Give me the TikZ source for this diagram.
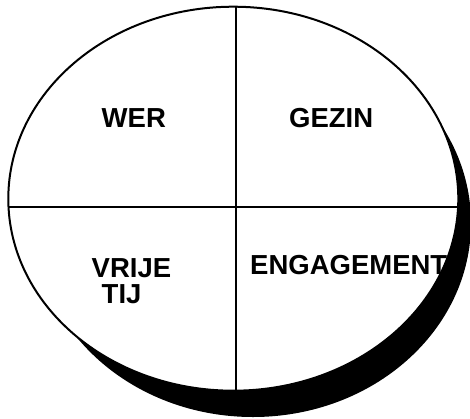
\documentclass[tikz,border=0pt]{standalone}
\usepackage{fontspec}
\setmainfont{Liberation Sans}
\begin{document}
\begin{tikzpicture}[x=1pt,y=-1pt,
  label/.style={anchor=base west, inner sep=0pt, font=\fontsize{27.5}{27.5}\selectfont\bfseries},
  divider/.style={line width=2pt, draw=black}]
\useasboundingbox (0,0) rectangle (470,418);
% shadow
\fill[black] (253,223) ellipse [x radius=218pt, y radius=194pt];
% main ellipse
\draw[fill=white, line width=2pt] (233.3,198.7) ellipse [x radius=225pt, y radius=192pt];
% dividers
\coordinate (top) at (235.5,6.7);
\coordinate (bot) at (235.5,390.7);
\coordinate (lft) at (8.5,207);
\coordinate (rgt) at (458,207);
\draw[divider] (top) -- (bot);
\draw[divider] (lft) -- (rgt);
% labels
\node[label] (wer) at (101.5,127.5) {WER};
\node[label] (gezin) at (289,127.5) {GEZIN};
\node[label] (vrije) at (91.5,277) {VRIJE};
\node[label] (tij) at (101.5,303) {TIJ};
\node[label] (eng) at (250,274.5) {ENGAGEMENT};
\end{tikzpicture}
\end{document}
